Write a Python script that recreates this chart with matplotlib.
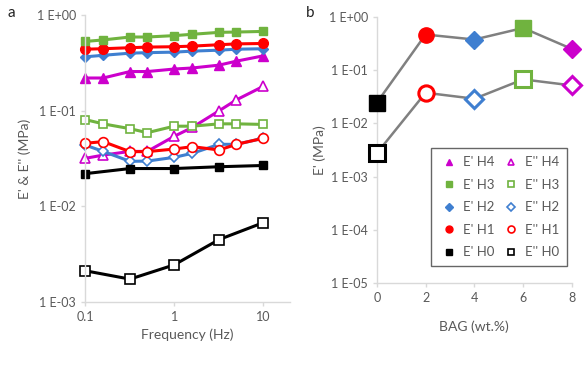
import numpy as np
import matplotlib
matplotlib.use("Agg")
import matplotlib.pyplot as plt
from matplotlib.ticker import FixedLocator, FuncFormatter, NullLocator

plt.rcParams['font.family'] = ['Liberation Sans Narrow', 'Lato', 'DejaVu Sans']

# panel a: frequency sweep
freq = [0.1, 0.16, 0.32, 0.5, 1, 1.6, 3.2, 5, 10]
freq_h0 = [0.1, 0.32, 1, 3.2, 10]

e1_h4 = [0.22, 0.22, 0.257, 0.257, 0.273, 0.28, 0.30, 0.33, 0.375]
e1_h3 = [0.53, 0.55, 0.59, 0.59, 0.61, 0.63, 0.66, 0.665, 0.675]
e1_h2 = [0.366, 0.38, 0.40, 0.405, 0.41, 0.42, 0.43, 0.44, 0.445]
e1_h1 = [0.44, 0.445, 0.456, 0.463, 0.467, 0.474, 0.49, 0.50, 0.505]
e1_h0 = [0.022, 0.0249, 0.0249, 0.026, 0.0268]

e2_h4 = [0.0318, 0.0344, 0.0376, 0.0376, 0.054, 0.067, 0.10, 0.13, 0.18]
e2_h3 = [0.081, 0.073, 0.065, 0.059, 0.069, 0.069, 0.073, 0.073, 0.072]
e2_h2 = [0.0439, 0.0376, 0.0296, 0.0298, 0.0326, 0.0359, 0.0446, 0.0446, 0.0516]
e2_h1 = [0.0457, 0.0476, 0.0374, 0.0374, 0.0398, 0.0422, 0.0389, 0.0446, 0.0516]
e2_h0 = [0.00213, 0.00174, 0.00245, 0.00451, 0.00677]

# panel b: modulus vs BAG content
bag = [0, 2, 4, 6, 8]
e1_bag = [0.0244, 0.467, 0.376, 0.62, 0.25]
e2_bag = [0.00274, 0.0376, 0.029, 0.067, 0.0516]

magenta = '#cc00cc'
green = '#70b33f'
blue = '#3f7fd0'
red = '#ff0000'
black = '#000000'
txt = '#595959'
axc = '#d9d9d9'

fig = plt.figure(figsize=(5.86, 3.68), dpi=100)
ax1 = fig.add_axes([0.145, 0.179, 0.35, 0.78])
ax2 = fig.add_axes([0.643, 0.231, 0.333, 0.723])


def sci(v, pos):
    return "1 E%+03d" % int(round(np.log10(v)))


def style(ax):
    for s in ['top', 'right']:
        ax.spines[s].set_visible(False)
    for s in ['left', 'bottom']:
        ax.spines[s].set_color(axc)
        ax.spines[s].set_linewidth(1.0)
    ax.tick_params(colors=axc, labelcolor=txt, labelsize=9, length=3, width=1)
    ax.yaxis.set_minor_locator(NullLocator())
    ax.yaxis.set_major_formatter(FuncFormatter(sci))


lw = 2.2
ms = 6
# E'' first so filled series sit on top
ax1.plot(freq, e2_h4, color=magenta, lw=lw, marker='^', ms=ms + 1, mfc='white', mec=magenta, mew=1.2, clip_on=False)
ax1.plot(freq, e2_h3, color=green, lw=lw, marker='s', ms=ms, mfc='white', mec=green, mew=1.2, clip_on=False)
ax1.plot(freq, e2_h2, color=blue, lw=lw, marker='D', ms=ms - 1, mfc='white', mec=blue, mew=1.2, clip_on=False)
ax1.plot(freq, e2_h1, color=red, lw=lw, marker='o', ms=ms + 1, mfc='white', mec=red, mew=1.2, clip_on=False)
ax1.plot(freq_h0, e2_h0, color=black, lw=lw, marker='s', ms=ms + 1, mfc='white', mec=black, mew=1.2, clip_on=False)
ax1.plot(freq, e1_h4, color=magenta, lw=lw, marker='^', ms=ms + 1, clip_on=False)
ax1.plot(freq, e1_h2, color=blue, lw=lw, marker='D', ms=ms - 1, clip_on=False)
ax1.plot(freq, e1_h1, color=red, lw=lw, marker='o', ms=ms + 1, clip_on=False)
ax1.plot(freq, e1_h3, color=green, lw=lw, marker='s', ms=ms, clip_on=False)
ax1.plot(freq_h0, e1_h0, color=black, lw=lw, marker='s', ms=ms, clip_on=False)

ax1.set_xscale('log')
ax1.set_yscale('log')
ax1.set_xlim(0.1, 20)
ax1.set_ylim(1e-3, 1)
ax1.xaxis.set_major_locator(FixedLocator([0.1, 1, 10]))
ax1.xaxis.set_minor_locator(NullLocator())
ax1.xaxis.set_major_formatter(FuncFormatter(lambda v, p: "%g" % v))
style(ax1)
ax1.set_xlabel('Frequency (Hz)', color=txt, fontsize=10)
ax1.set_ylabel("E' & E'' (MPa)", color=txt, fontsize=10)
fig.text(0.012, 0.955, 'a', fontsize=11, color='#222222')

# panel b
bag_colors = [black, red, blue, green, magenta]
bag_markers = ['s', 'o', 'D', 's', 'D']
bag_sizes = [11, 11, 9, 11, 9]
ax2.plot(bag, e1_bag, color='#808080', lw=1.8, zorder=1)
ax2.plot(bag, e2_bag, color='#808080', lw=1.8, zorder=1)
for x, y1, y2, c, m, s in zip(bag, e1_bag, e2_bag, bag_colors, bag_markers, bag_sizes):
    ax2.plot([x], [y1], ls='none', marker=m, ms=s, color=c, zorder=3, clip_on=False)
    ax2.plot([x], [y2], ls='none', marker=m, ms=s, mfc='white', mec=c, mew=2.2, zorder=3, clip_on=False)

ax2.set_yscale('log')
ax2.set_xlim(0, 8)
ax2.set_ylim(1e-5, 1)
ax2.set_xticks([0, 2, 4, 6, 8])
style(ax2)
ax2.set_xlabel('BAG (wt.%)', color=txt, fontsize=10, labelpad=12)
ax2.set_ylabel("E' (MPa)", color=txt, fontsize=10, labelpad=2)
fig.text(0.522, 0.955, 'b', fontsize=11, color='#222222')

# legend uses marker styles of panel a
labels = ["E' H4", "E' H3", "E' H2", "E' H1", "E' H0",
          "E'' H4", "E'' H3", "E'' H2", "E'' H1", "E'' H0"]
cols = [magenta, green, blue, red, black]
marks = ['^', 's', 'D', 'o', 's']
lsizes = [5, 5, 4, 5, 5]
handles = []
for c, m, s in zip(cols, marks, lsizes):
    handles.append(ax2.plot([], [], ls='none', marker=m, color=c, ms=s)[0])
for c, m, s in zip(cols, marks, lsizes):
    handles.append(ax2.plot([], [], ls='none', marker=m, mfc='white', mec=c, mew=1.2, ms=s)[0])
leg = ax2.legend(handles, labels, ncol=2, loc='lower left',
                 bbox_to_anchor=(0.245, 0.038),
                 fontsize=9.5, frameon=True, fancybox=False, edgecolor='#404040',
                 labelcolor=txt, handletextpad=0.3, handlelength=1.5,
                 columnspacing=0.5, labelspacing=0.8, borderpad=0.6)
leg.get_frame().set_linewidth(1.0)

fig.savefig('out.png', dpi=100)
